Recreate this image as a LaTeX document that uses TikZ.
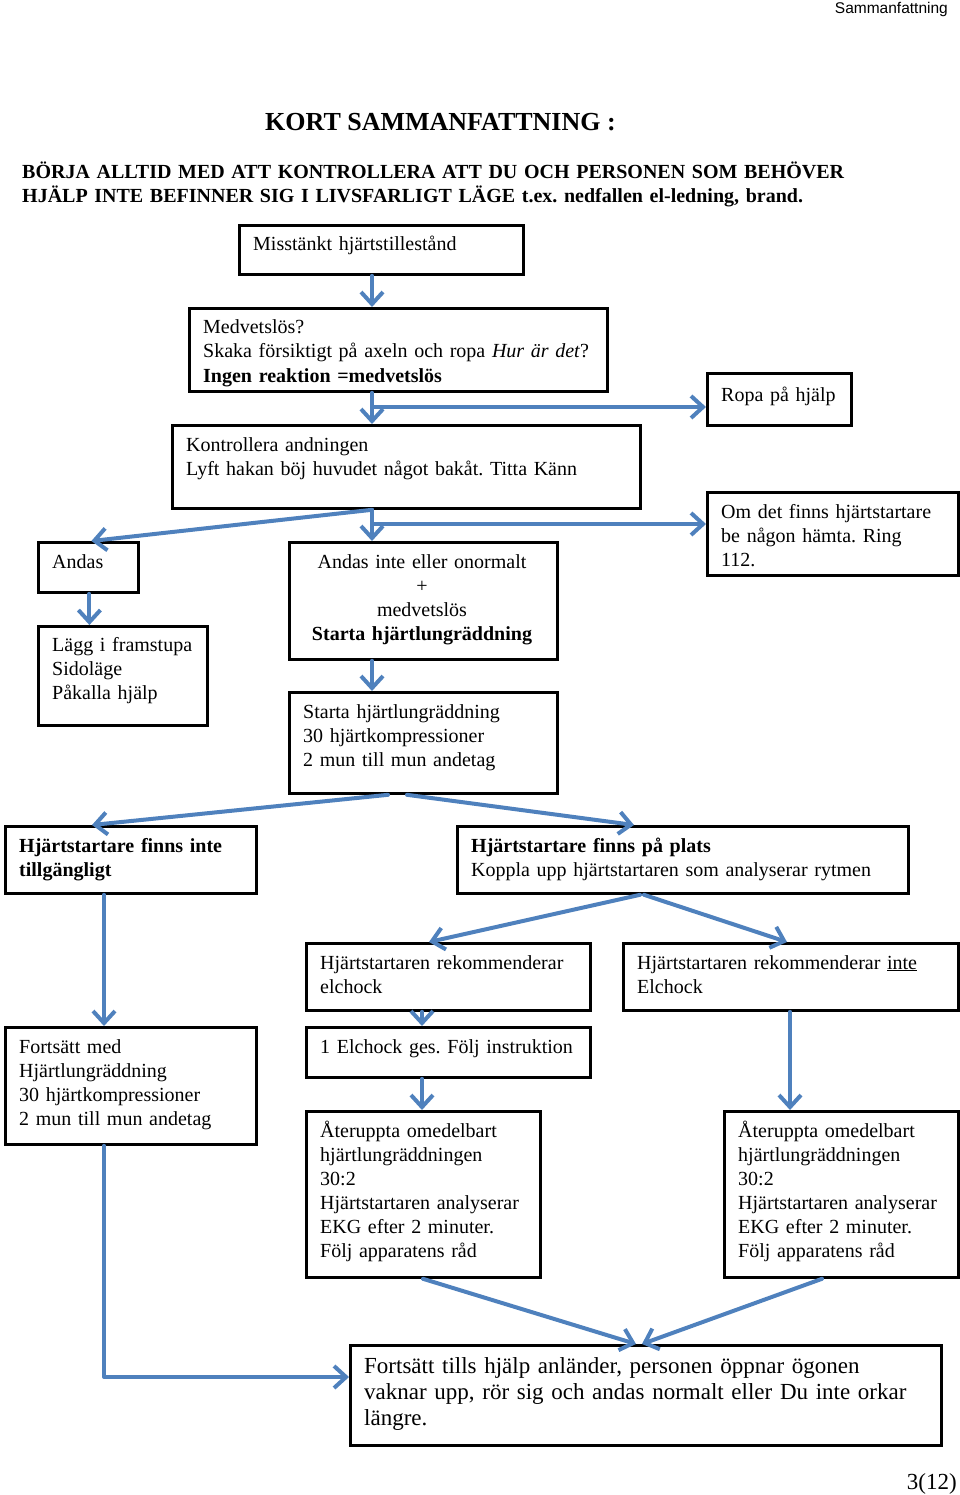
\documentclass[tikz,border=0pt]{standalone}
\usepackage{fontspec}
\setmainfont{Liberation Serif}
\newfontfamily\hdrfont{Liberation Sans}
\usetikzlibrary{arrows.meta}
\definecolor{arrblue}{HTML}{4F81BD}
\frenchspacing
\begin{document}
\begin{tikzpicture}[x=1pt,y=-1pt,
  box/.style={draw=black, line width=2.8pt, rectangle, inner sep=0pt, anchor=north west},
  txt/.style={anchor=base west, inner sep=0pt, text width=600pt, align=left, font=\fontsize{20}{24}\selectfont},
  ctxt/.style={anchor=base, inner sep=0pt, text width=268pt, align=center, font=\fontsize{20}{24}\selectfont},
  arr/.style={draw=arrblue, line width=4pt, line cap=round, line join=round,
    -{Straight Barb[length=12pt,width=22pt,line width=4pt]}}]
\useasboundingbox (0,0) rectangle (960,1495);

% header, title
\node[anchor=base east, inner sep=0pt, font=\hdrfont\fontsize{15.5}{19}\selectfont] (hdr) at (948,14) {Sammanfattning};
\node[anchor=base west, inner sep=0pt, font=\bfseries\fontsize{26}{30}\selectfont] (title) at (265,131) {KORT SAMMANFATTNING :};
\node[anchor=base west, inner sep=0pt, text width=900pt, align=left, font=\bfseries\fontsize{20}{24}\selectfont] (warn) at (22,179)
  {BÖRJA ALLTID MED ATT KONTROLLERA ATT DU OCH PERSONEN SOM BEHÖVER\\HJÄLP INTE BEFINNER SIG I LIVSFARLIGT LÄGE t.ex. nedfallen el-ledning, brand.};

% boxes
\node[box, minimum width=284, minimum height=49] (mis) at (238,224) {};
\node[box, minimum width=418, minimum height=83] (med) at (188,307) {};
\node[box, minimum width=144, minimum height=52] (ropa) at (706,372) {};
\node[box, minimum width=468, minimum height=83] (kon) at (171,424) {};
\node[box, minimum width=251, minimum height=83] (om) at (706,491) {};
\node[box, minimum width=100, minimum height=50] (andas) at (37,541) {};
\node[box, minimum width=169, minimum height=99] (lagg) at (37,625) {};
\node[box, minimum width=268, minimum height=117] (inte) at (288,541) {};
\node[box, minimum width=268, minimum height=101] (starta) at (288,691) {};
\node[box, minimum width=251, minimum height=67] (finnsinte) at (4,825) {};
\node[box, minimum width=451, minimum height=67] (finns) at (456,825) {};
\node[box, minimum width=284, minimum height=67] (rek) at (305,942) {};
\node[box, minimum width=335, minimum height=67] (rekinte) at (622,942) {};
\node[box, minimum width=251, minimum height=117] (fortmed) at (4,1026) {};
\node[box, minimum width=284, minimum height=50] (el) at (305,1026) {};
\node[box, minimum width=234, minimum height=166] (aterA) at (305,1110) {};
\node[box, minimum width=234, minimum height=166] (aterB) at (723,1110) {};
\node[box, minimum width=591, minimum height=100] (slut) at (349,1344) {};

% texts
\node[txt] (mis-t) at (253,251) {Misstänkt hjärtstillestånd};
\node[txt] (med-t) at (203,334) {Medvetslös?\\Skaka försiktigt på axeln och ropa \textit{Hur är det}?\\\textbf{Ingen reaktion =medvetslös}};
\node[txt] (ropa-t) at (721,401) {Ropa på hjälp};
\node[txt] (kon-t) at (186,451) {Kontrollera andningen\\Lyft hakan böj huvudet något bakåt. Titta Känn};
\node[txt] (om-t) at (721,518) {Om det finns hjärtstartare\\be någon hämta. Ring\\112.};
\node[txt] (andas-t) at (52,568) {Andas};
\node[txt] (lagg-t) at (52,651) {Lägg i framstupa\\Sidoläge\\Påkalla hjälp};
\node[ctxt] (inte-t) at (422,568) {Andas inte eller onormalt\\+\\medvetslös\\\textbf{Starta hjärtlungräddning}};
\node[txt] (starta-t) at (303,718) {Starta hjärtlungräddning\\30 hjärtkompressioner\\2 mun till mun andetag};
\node[txt, font=\bfseries\fontsize{20}{24}\selectfont] (finnsinte-t) at (19,852) {Hjärtstartare finns inte\\tillgängligt};
\node[txt] (finns-t) at (471,852) {\textbf{Hjärtstartare finns på plats}\\Koppla upp hjärtstartaren som analyserar rytmen};
\node[txt] (rek-t) at (320,969) {Hjärtstartaren rekommenderar\\elchock};
\node[txt] (rekinte-t) at (637,969) {Hjärtstartaren rekommenderar \underline{inte}\\Elchock};
\node[txt] (fortmed-t) at (19,1053) {Fortsätt med\\Hjärtlungräddning\\30 hjärtkompressioner\\2 mun till mun andetag};
\node[txt] (el-t) at (320,1053) {1 Elchock ges. Följ instruktion};
\node[txt] (aterA-t) at (320,1137) {Återuppta omedelbart\\hjärtlungräddningen\\30:2\\Hjärtstartaren analyserar\\EKG efter 2 minuter.\\Följ apparatens råd};
\node[txt] (aterB-t) at (738,1137) {Återuppta omedelbart\\hjärtlungräddningen\\30:2\\Hjärtstartaren analyserar\\EKG efter 2 minuter.\\Följ apparatens råd};
\node[txt, font=\fontsize{23}{26}\selectfont] (slut-t) at (364,1373) {Fortsätt tills hjälp anländer, personen öppnar ögonen\\vaknar upp, rör sig och andas normalt eller Du inte orkar\\längre.};
\node[anchor=base east, inner sep=0pt, font=\fontsize{23}{26}\selectfont] (page) at (957,1489) {3(12)};

% connectors
\coordinate (colA) at (372,0);
\coordinate (colB) at (422,0);
\coordinate (colC) at (790,0);
\coordinate (j1) at (372,407);
\coordinate (j2) at (372,524);
\coordinate (j3) at (104,1377);
\draw[arr] (colA |- mis.south) -- (colA |- med.north);
\draw[arr] (colA |- med.south) -- (colA |- kon.north);
\draw[arr] (j1) -- (j1 -| ropa.west);
\draw[arr] (colA |- kon.south) -- ([xshift=3pt]andas.north);
\draw[arr] (colA |- kon.south) -- (colA |- inte.north);
\draw[arr] (j2) -- (j2 -| om.west);
\draw[arr] ([xshift=1pt]andas.south) -- ([xshift=1pt]andas.south |- lagg.north);
\draw[arr] (colA |- inte.south) -- (colA |- starta.north);
\draw[arr] ([xshift=100pt]starta.south west) -- ([xshift=88pt]finnsinte.north west);
\draw[arr] ([xshift=119pt]starta.south west) -- ([xshift=178pt]finns.north west);
\draw[arr] ([xshift=184pt]finns.south west) -- ([xshift=124pt]rek.north west);
\draw[arr] ([xshift=188pt]finns.south west) -- ([xshift=165pt]rekinte.north west);
\draw[arr] (j3 |- finnsinte.south) -- (j3 |- fortmed.north);
\draw[arr] (colB |- rek.south) -- (colB |- el.north);
\draw[arr] (colB |- el.south) -- (colB |- aterA.north);
\draw[arr] (colC |- rekinte.south) -- (colC |- aterB.north);
\draw[arr] ([xshift=118pt]aterA.south west) -- ([xshift=287pt]slut.north west);
\draw[arr] ([xshift=99pt]aterB.south west) -- ([xshift=293pt]slut.north west);
\draw[arr] (j3 |- fortmed.south) -- (j3) -- (j3 -| slut.west);
\end{tikzpicture}
\end{document}
